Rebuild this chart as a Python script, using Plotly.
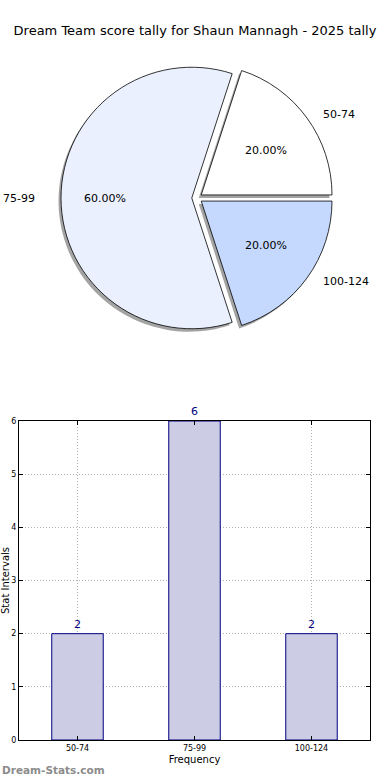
import math
import plotly.graph_objects as go

title_text = "Dream Team score tally for Shaun Mannagh - 2025 tally"
categories = ["50-74", "75-99", "100-124"]
counts = [2, 6, 2]
pie_colors = ["#ffffff", "#eaf0fe", "#c5d9fe"]
y_ticks = [0, 1, 2, 3, 4, 5, 6]

W, H = 390, 780
ML, MR, MT, MB = 19, 20, 0, 40
PW, PH = W - ML - MR, H - MT - MB

def px_x(x):
    return (x - ML) / PW

def px_y(y):
    return (H - MB - y) / PH

fig = go.Figure()

pie_dom_x = [px_x(57), px_x(337)]
pie_dom_y = [px_y(334), px_y(62)]
pull = [0.04] * 3
rot = 18

# shadow
fig.add_trace(go.Pie(
    labels=categories, values=counts, sort=False, direction="counterclockwise",
    rotation=rot, pull=pull, textinfo="none", hoverinfo="skip",
    marker=dict(colors=["rgba(90,90,90,0.55)"] * 3, line=dict(width=0)),
    domain=dict(x=[pie_dom_x[0] - 2.5 / PW, pie_dom_x[1] - 2.5 / PW],
                y=[pie_dom_y[0] - 3 / PH, pie_dom_y[1] - 3 / PH]),
    showlegend=False,
))
# main pie
fig.add_trace(go.Pie(
    labels=categories, values=counts, sort=False, direction="counterclockwise",
    rotation=rot, pull=pull, textinfo="none",
    marker=dict(colors=pie_colors, line=dict(color="#000000", width=0.8)),
    domain=dict(x=pie_dom_x, y=pie_dom_y),
    showlegend=False,
))

# pie labels (matplotlib-style placement: labels outside, percentages inside)
cx, cy, rx, ry = 194, 198, 146, 128.5
total = sum(counts)
annotations = []
cum = 0
for lab, v in zip(categories, counts):
    mid = math.radians(360 * (cum + v / 2) / total)
    cum += v
    c, s = math.cos(mid), math.sin(mid)
    annotations.append(dict(
        text=lab, xref="paper", yref="paper",
        x=px_x(cx + 1.075 * rx * c), y=px_y(cy - 1.1 * ry * s),
        xanchor="left" if c > 0 else "right", yanchor="middle", showarrow=False,
        font=dict(family="DejaVu Sans", size=11, color="#000000")))
    annotations.append(dict(
        text="{:.2%}".format(v / total), xref="paper", yref="paper",
        x=px_x(cx + 0.61 * rx * c), y=px_y(cy - 0.63 * ry * s),
        xanchor="center", yanchor="middle", showarrow=False,
        font=dict(family="DejaVu Sans", size=11, color="#000000")))

fig.add_trace(go.Bar(
    x=categories, y=counts, width=0.44,
    marker=dict(color="#ccccE5", line=dict(color="#000080", width=1)),
    text=[str(c) for c in counts], textposition="outside", cliponaxis=False,
    textfont=dict(family="DejaVu Sans", size=11, color="#000080"),
    xaxis="x", yaxis="y", showlegend=False,
))

axis_common = dict(
    showline=True, linecolor="#000000", linewidth=1, mirror="ticks",
    ticks="inside", ticklen=4, tickcolor="#000000", automargin=False,
    showgrid=True, gridcolor="#b0b0b0", griddash="1px,2px", gridwidth=1,
    zeroline=False, tickfont=dict(family="DejaVu Sans", size=8, color="#000000"),
)

annotations.append(dict(text="<b>Dream-Stats.com</b>", xref="paper", yref="paper",
                        x=-ML / PW, y=-30 / PH, xanchor="left", yanchor="middle",
                        showarrow=False,
                        font=dict(family="DejaVu Sans", size=10.5, color="#8c8c8c")))

fig.update_layout(
    width=W, height=H,
    margin=dict(l=ML, r=MR, t=MT, b=MB),
    paper_bgcolor="#ffffff", plot_bgcolor="#ffffff",
    title=dict(text=title_text, x=0.5, xref="container", xanchor="center",
               y=1 - 30 / H, yanchor="middle",
               font=dict(family="DejaVu Sans", size=13, color="#000000")),
    xaxis=dict(domain=[0, 1], range=[-0.5, 2.5], anchor="y",
               title=dict(text="Frequency", standoff=4,
                          font=dict(family="DejaVu Sans", size=10, color="#000000")),
               **axis_common),
    yaxis=dict(domain=[0, px_y(421)], range=[0, 6], anchor="x", tickvals=y_ticks,
               title=dict(text="Stat Intervals", standoff=2,
                          font=dict(family="DejaVu Sans", size=10, color="#000000")),
               **axis_common),
    font=dict(family="DejaVu Sans"),
    annotations=annotations,
)

fig.write_html("out.html", config={"displayModeBar": False},
               post_script="document.body.style.margin='0';document.body.style.overflow='hidden';")
